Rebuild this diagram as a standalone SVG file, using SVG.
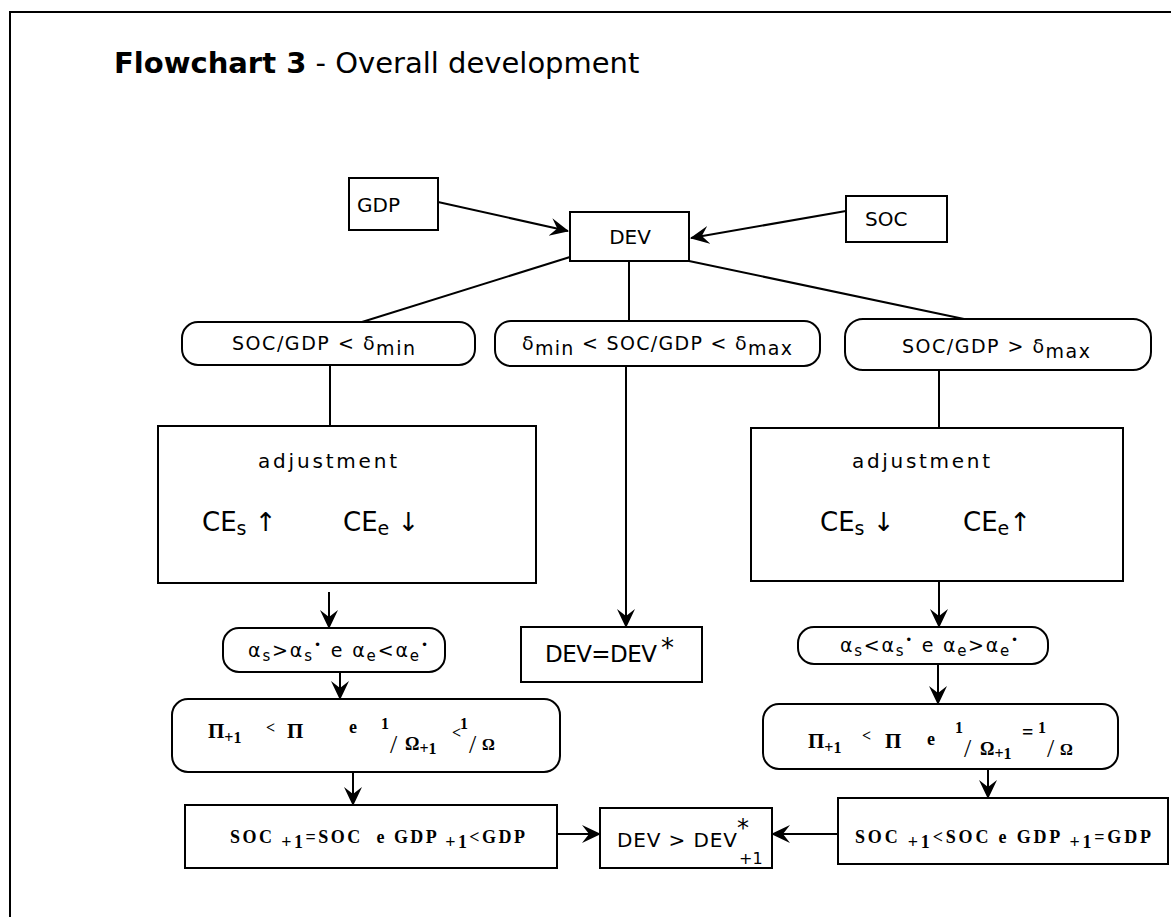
<svg xmlns="http://www.w3.org/2000/svg" width="1171" height="917" viewBox="0 0 1171 917">
<defs>
<marker id="ah" markerWidth="20" markerHeight="20" refX="18" refY="10" orient="auto" markerUnits="userSpaceOnUse">
<path d="M0,1 L19,10 L0,19 L7,10 Z" fill="#000"/>
</marker>
</defs>
<style>
.box{fill:#fff;stroke:#000;stroke-width:2}
.ln{fill:none;stroke:#000;stroke-width:2}
.arr{fill:none;stroke:#000;stroke-width:2;marker-end:url(#ah)}
.sans{font-family:"DejaVu Sans","Liberation Sans",sans-serif;fill:#000}
.serif{font-family:"Liberation Serif","DejaVu Serif",serif;fill:#000}
.pre{white-space:pre}
</style>
<rect x="10" y="12" width="1200" height="950" fill="#fff" stroke="#000" stroke-width="2"/>
<text x="114" y="73" class="sans" font-size="29"><tspan font-weight="bold">Flowchart 3</tspan> - Overall development</text>

<g id="connectors">
<path class="arr" d="M438,202 L568,231"/>
<path class="arr" d="M846,211 L691,238"/>
<path class="ln" d="M570,257 L362,322"/>
<path class="ln" d="M629,261 L629,321"/>
<path class="ln" d="M689,261 L964,319"/>
<path class="ln" d="M330,365 L330,426"/>
<path class="ln" d="M939,370 L939,428"/>
<path class="arr" d="M626,366 L626,627"/>
<path class="arr" d="M329,592 L329,628"/>
<path class="arr" d="M340,672 L340,699"/>
<path class="arr" d="M353,772 L353,805"/>
<path class="arr" d="M939,581 L939,627"/>
<path class="arr" d="M938,664 L938,704"/>
<path class="arr" d="M988,769 L988,798"/>
<path class="arr" d="M557,834 L600,834"/>
<path class="arr" d="M838,834 L772,834"/>
</g>

<g id="gdp"><rect class="box" x="349" y="178" width="89" height="52"/><text class="sans" x="357" y="212" font-size="20">GDP</text></g>
<g id="soc"><rect class="box" x="846" y="196" width="101" height="46"/><text class="sans" x="865" y="226" font-size="20">SOC</text></g>
<g id="dev"><rect class="box" x="570" y="212" width="119" height="49"/><text class="sans" x="630" y="244" font-size="20" text-anchor="middle">DEV</text></g>

<g id="cond-low"><rect class="box" x="182" y="322" width="293" height="43" rx="16"/><text class="sans" x="232" y="350" font-size="19" textLength="183">SOC/GDP &lt; δ<tspan dy="5">min</tspan></text></g>
<g id="cond-mid"><rect class="box" x="495" y="321" width="325" height="45" rx="16"/><text class="sans" x="522" y="350" font-size="19" textLength="270">δ<tspan dy="5">min</tspan><tspan dy="-5"> &lt; SOC/GDP &lt; δ</tspan><tspan dy="5">max</tspan></text></g>
<g id="cond-high"><rect class="box" x="845" y="319" width="306" height="51" rx="18"/><text class="sans" x="902" y="353" font-size="19" textLength="188">SOC/GDP &gt; δ<tspan dy="5">max</tspan></text></g>

<g id="adj-left"><rect class="box" x="158" y="426" width="378" height="157"/>
<text class="sans" x="258" y="468" font-size="20" textLength="139">adjustment</text>
<text class="sans" x="202" y="531" font-size="26">CE<tspan font-size="19" dy="4">s</tspan><tspan dy="-4"> ↑</tspan></text>
<text class="sans" x="343" y="531" font-size="26">CE<tspan font-size="19" dy="4">e</tspan><tspan dy="-4"> ↓</tspan></text>
</g>
<g id="adj-right"><rect class="box" x="751" y="428" width="372" height="153"/>
<text class="sans" x="852" y="468" font-size="20" textLength="138">adjustment</text>
<text class="sans" x="820" y="531" font-size="26">CE<tspan font-size="19" dy="4">s</tspan><tspan dy="-4"> ↓</tspan></text>
<text class="sans" x="963" y="531" font-size="26">CE<tspan font-size="19" dy="4">e</tspan><tspan dy="-4">↑</tspan></text>
</g>

<g id="alpha-left"><rect class="box" x="223" y="628" width="222" height="44" rx="16"/>
<text class="sans" x="248" y="657" font-size="19" textLength="180">α<tspan font-size="15" dy="4">s</tspan><tspan dy="-4">&gt;α</tspan><tspan font-size="15" dy="4">s</tspan><tspan font-size="12" dy="-12">•</tspan><tspan dy="8"> e α</tspan><tspan font-size="15" dy="4">e</tspan><tspan dy="-4">&lt;α</tspan><tspan font-size="15" dy="4">e</tspan><tspan font-size="12" dy="-12">•</tspan></text>
</g>
<g id="alpha-right"><rect class="box" x="798" y="627" width="250" height="37" rx="16"/>
<text class="sans" x="840" y="652" font-size="19" textLength="178">α<tspan font-size="15" dy="4">s</tspan><tspan dy="-4">&lt;α</tspan><tspan font-size="15" dy="4">s</tspan><tspan font-size="12" dy="-12">•</tspan><tspan dy="8"> e α</tspan><tspan font-size="15" dy="4">e</tspan><tspan dy="-4">&gt;α</tspan><tspan font-size="15" dy="4">e</tspan><tspan font-size="12" dy="-12">•</tspan></text>
</g>

<g id="dev-eq"><rect class="box" x="521" y="627" width="181" height="55"/>
<text class="sans" x="545" y="662" font-size="23" textLength="112">DEV=DEV</text><text class="sans" x="661" y="657" font-size="26">*</text></g>

<g id="pi-left"><rect class="box" x="172" y="699" width="388" height="73" rx="16"/>
<g class="serif" font-weight="bold">
<text x="208" y="738" font-size="21">Π<tspan font-size="16" dy="5">+1</tspan></text>
<text x="266" y="733" font-size="16">&lt;</text>
<text x="287" y="738" font-size="21">Π</text>
<text x="349" y="733" font-size="18">e</text>
<text x="381" y="729" font-size="16">1</text>
<text x="390" y="753" font-size="26" font-weight="normal">/</text>
<text x="405" y="750" font-size="18">Ω<tspan font-size="16" dy="4">+1</tspan></text>
<text x="452" y="738" font-size="16">&lt;</text>
<text x="460" y="729" font-size="16">1</text>
<text x="469" y="753" font-size="26" font-weight="normal">/</text>
<text x="482" y="750" font-size="16">Ω</text>
</g></g>
<g id="pi-right"><rect class="box" x="763" y="704" width="355" height="65" rx="16"/>
<g class="serif" font-weight="bold">
<text x="808" y="748" font-size="21">Π<tspan font-size="16" dy="5">+1</tspan></text>
<text x="862" y="741" font-size="16">&lt;</text>
<text x="885" y="748" font-size="21">Π</text>
<text x="927" y="745" font-size="18">e</text>
<text x="955" y="733" font-size="16">1</text>
<text x="964" y="757" font-size="26" font-weight="normal">/</text>
<text x="980" y="755" font-size="18">Ω<tspan font-size="16" dy="4">+1</tspan></text>
<text x="1022" y="739" font-size="20">=</text>
<text x="1038" y="733" font-size="16">1</text>
<text x="1047" y="757" font-size="26" font-weight="normal">/</text>
<text x="1060" y="755" font-size="16">Ω</text>
</g></g>

<g id="soc-left"><rect class="box" x="185" y="805" width="372" height="63"/>
<text class="serif pre" x="230" y="843" font-size="18" font-weight="bold" textLength="295">SOC <tspan dy="5">+1</tspan><tspan dy="-5">=SOC  e GDP </tspan><tspan dy="5">+1</tspan><tspan dy="-5">&lt;GDP</tspan></text></g>
<g id="dev-gt"><rect class="box" x="600" y="808" width="172" height="60"/>
<text class="sans" x="617" y="847" font-size="20" textLength="120">DEV &gt; DEV</text><text class="sans" x="737" y="836" font-size="24">*</text><text class="sans" x="739" y="864" font-size="16">+1</text></g>
<g id="soc-right"><rect class="box" x="838" y="798" width="330" height="66"/>
<text class="serif pre" x="855" y="843" font-size="18" font-weight="bold" textLength="296">SOC <tspan dy="5">+1</tspan><tspan dy="-5">&lt;SOC e GDP </tspan><tspan dy="5">+1</tspan><tspan dy="-5">=GDP</tspan></text></g>
</svg>
